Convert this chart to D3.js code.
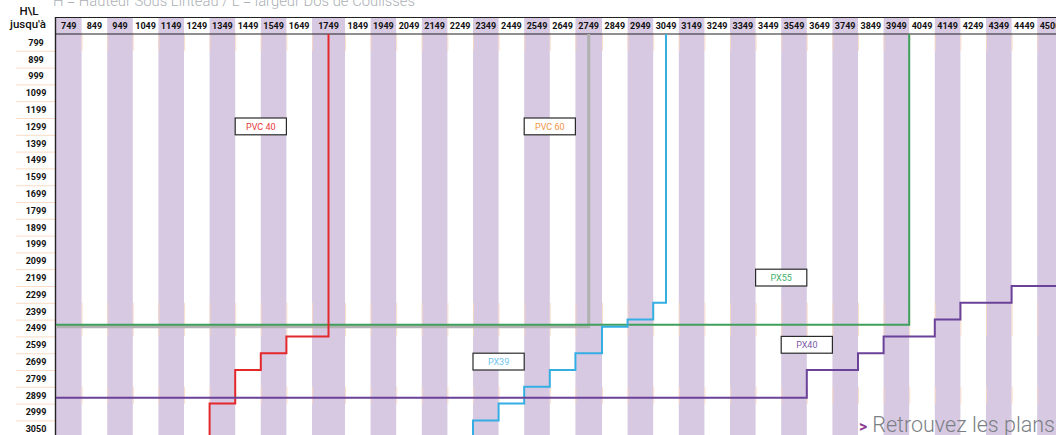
<!DOCTYPE html>
<html>
<head>
<meta charset="utf-8">
<script src="https://cdn.jsdelivr.net/npm/d3@7"></script>
<style>
  body { margin: 0; background: #fff; }
  svg { display: block; font-family: Roboto, "Open Sans", sans-serif; }
</style>
</head>
<body>
<div class="chart"></div>
<script>
// largeur (L) columns, "jusqu'a" values
var colLabels = [749, 849, 949, 1049, 1149, 1249, 1349, 1449, 1549, 1649, 1749, 1849, 1949,
  2049, 2149, 2249, 2349, 2449, 2549, 2649, 2749, 2849, 2949, 3049, 3149, 3249, 3349,
  3449, 3549, 3649, 3749, 3849, 3949, 4049, 4149, 4249, 4349, 4449, 4500];
// hauteur (H) rows
var rowLabels = [799, 899, 999, 1099, 1199, 1299, 1399, 1499, 1599, 1699, 1799, 1899,
  1999, 2099, 2199, 2299, 2399, 2499, 2599, 2699, 2799, 2899, 2999, 3050];

// limits per model, as [L, H] steps
var pvc40 = [[1699, 699], [1699, 2499], [1549, 2499], [1549, 2599], [1449, 2599], [1449, 2699],
  [1349, 2699], [1349, 2899], [1249, 2899], [1249, 3099]];
var pvc60 = [[2699, 699], [2699, 2442], [649, 2442]];
var px55 = [[3949, 699], [3949, 2430], [649, 2430]];
var px39 = [[2999, 699], [2999, 2299], [2949, 2299], [2949, 2399], [2849, 2399], [2849, 2442],
  [2749, 2442], [2749, 2599], [2649, 2599], [2649, 2699], [2549, 2699], [2549, 2799],
  [2449, 2799], [2449, 2899], [2349, 2899], [2349, 2999], [2249, 2999], [2249, 3099]];
var px40 = [[649, 2864], [3549, 2864], [3549, 2699], [3749, 2699], [3749, 2599], [3849, 2599],
  [3849, 2499], [4049, 2499], [4049, 2399], [4149, 2399], [4149, 2299], [4349, 2299],
  [4349, 2199], [4649, 2199]];

// name tags: first column, last column, row
var tags = [
  {name: "PVC 40", c0: 1449, c1: 1549, row: 1299},
  {name: "PVC 60", c0: 2549, c1: 2649, row: 1299},
  {name: "PX55", c0: 3449, c1: 3549, row: 2199},
  {name: "PX39", c0: 2349, c1: 2449, row: 2699},
  {name: "PX40", c0: 3549, c1: 3649, row: 2599}
];

var lines = [
  {name: "PVC 60", pts: pvc60, color: "#b1b1b1", w: 3},
  {name: "PX55", pts: px55, color: "#3f9f5c", w: 2},
  {name: "PVC 40", pts: pvc40, color: "#e3282c", w: 2},
  {name: "PX39", pts: px39, color: "#35aee3", w: 2},
  {name: "PX40", pts: px40, color: "#6a4299", w: 2}
];
var tagColor = {"PVC 40": "#e8393a", "PVC 60": "#f29447", "PX55": "#3fb06a", "PX39": "#6cc4ee", "PX40": "#7c5aa8"};

var W = 1056, H = 435;
var top0 = 34, left0 = 56;
var colW = 25.6, rowH = 16.8;
// the table has two wider columns
var wideCols = {1749: 33, 2749: 26.6};

// column boundaries -> piecewise scale
var xDomain = [649], xRange = [left0];
colLabels.forEach(function(c) {
  xDomain.push(c);
  xRange.push(xRange[xRange.length - 1] + (wideCols[c] || colW));
});
xDomain.push(4649);
xRange.push(xRange[xRange.length - 1] + colW);

var x = d3.scaleLinear()
    .domain(xDomain)
    .range(xRange);
var y = d3.scaleLinear()
    .domain([699, 699 + rowLabels.length * 100])
    .range([top0, top0 + rowLabels.length * rowH]);

// left edge of a column
function colStart(c) {
  var i = colLabels.indexOf(c);
  return i > 0 ? x(colLabels[i - 1]) : x(649);
}

var svg = d3.select(".chart").append("svg")
    .attr("width", W)
    .attr("height", H);

// title (cropped at top)
svg.append("text")
    .attr("x", 53)
    .attr("y", 6)
    .attr("font-size", 14.8)
    .attr("font-weight", 300)
    .style("fill", "#abb0b5")
    .text("H = Hauteur Sous Linteau / L = largeur Dos de Coulisses");

// shaded columns (header included)
svg.append("g").selectAll("rect")
    .data(colLabels.filter(function(d, i) { return i % 2 == 0; }))
    .enter().append("rect")
    .attr("x", function(d) { return colStart(d); })
    .attr("y", 17)
    .attr("width", function(d) { return x(d) - colStart(d); })
    .attr("height", H - 17)
    .style("fill", "#d8c9e3");

// faint cell borders
var borderRows = [799, 2399, 2499, 2899];
var gb = svg.append("g");
borderRows.forEach(function(r) {
  gb.selectAll(null)
    .data(colLabels)
    .enter().append("line")
    .attr("x1", function(d) { return x(d) + 0.5; })
    .attr("x2", function(d) { return x(d) + 0.5; })
    .attr("y1", y(r - 100))
    .attr("y2", y(r))
    .style("stroke", "#f9d8bf")
    .style("stroke-width", 0.8);
});

// row separators on the left
svg.append("g").selectAll("line")
    .data(rowLabels)
    .enter().append("line")
    .attr("x1", 16)
    .attr("x2", left0)
    .attr("y1", function(d, i) { return y(799 + i * 100) + 0.5; })
    .attr("y2", function(d, i) { return y(799 + i * 100) + 0.5; })
    .style("stroke", "#fbdcc7")
    .style("stroke-width", 1);

// column header labels
svg.append("g").selectAll("text")
    .data(colLabels)
    .enter().append("text")
    .attr("x", function(d) { return (colStart(d) + x(d)) / 2; })
    .attr("y", 28.5)
    .attr("text-anchor", "middle")
    .attr("font-size", 9)
    .attr("font-weight", "bold")
    .style("fill", "#111")
    .text(function(d) { return d; });

// row labels
svg.append("g").selectAll("text")
    .data(rowLabels)
    .enter().append("text")
    .attr("x", 36)
    .attr("y", function(d, i) { return y(749 + i * 100) + 3.3; })
    .attr("text-anchor", "middle")
    .attr("font-size", 9)
    .attr("font-weight", "bold")
    .style("fill", "#111")
    .text(function(d) { return d; });

// corner header
svg.append("text")
    .attr("x", 29).attr("y", 15)
    .attr("text-anchor", "middle")
    .attr("font-size", 11.5)
    .attr("font-weight", 500)
    .style("fill", "#111")
    .text("H\\L");
svg.append("text")
    .attr("x", 28).attr("y", 28)
    .attr("text-anchor", "middle")
    .attr("font-size", 11.5)
    .attr("font-weight", 500)
    .style("fill", "#111")
    .text("jusqu'à");

// header frame
svg.append("line").attr("x1", left0).attr("x2", W).attr("y1", 17.5).attr("y2", 17.5)
    .style("stroke", "#222").style("stroke-width", 1.2);
svg.append("line").attr("x1", left0).attr("x2", W).attr("y1", top0).attr("y2", top0)
    .style("stroke", "#222").style("stroke-width", 1.2);
svg.append("line").attr("x1", left0 - 0.5).attr("x2", left0 - 0.5).attr("y1", 17).attr("y2", H)
    .style("stroke", "#222").style("stroke-width", 1.4);

// model limits
var path = d3.line()
    .x(function(d) { return x(d[0]); })
    .y(function(d) { return y(d[1]); })
    .curve(d3.curveLinear);

svg.append("g").selectAll("path")
    .data(lines)
    .enter().append("path")
    .attr("d", function(d) { return path(d.pts); })
    .style("fill", "none")
    .style("stroke", function(d) { return d.color; })
    .style("stroke-width", function(d) { return d.w; });

// name tags
var tg = svg.append("g").selectAll("g")
    .data(tags)
    .enter().append("g");
tg.append("rect")
    .attr("x", function(d) { return colStart(d.c0); })
    .attr("y", function(d) { return y(d.row - 100); })
    .attr("width", function(d) { return x(d.c1) - colStart(d.c0); })
    .attr("height", rowH)
    .style("fill", "#fff")
    .style("stroke", "#2a2a2a")
    .style("stroke-width", 1.2);
tg.append("text")
    .attr("x", function(d) { return (colStart(d.c0) + x(d.c1)) / 2; })
    .attr("y", function(d) { return y(d.row - 50) + 3.2; })
    .attr("text-anchor", "middle")
    .attr("font-size", 9)
    .style("fill", function(d) { return tagColor[d.name]; })
    .text(function(d) { return d.name; });

// footer link
var ft = svg.append("text")
    .attr("x", 859)
    .attr("y", 432)
    .attr("font-size", 21.5)
    .attr("font-weight", 300);
ft.append("tspan")
    .attr("font-weight", "bold")
    .attr("font-size", 16)
    .style("fill", "#8b3a94")
    .text(">");
ft.append("tspan")
    .attr("dx", 5)
    .style("fill", "#7b8085")
    .text("Retrouvez les plans");
</script>
</body>
</html>
